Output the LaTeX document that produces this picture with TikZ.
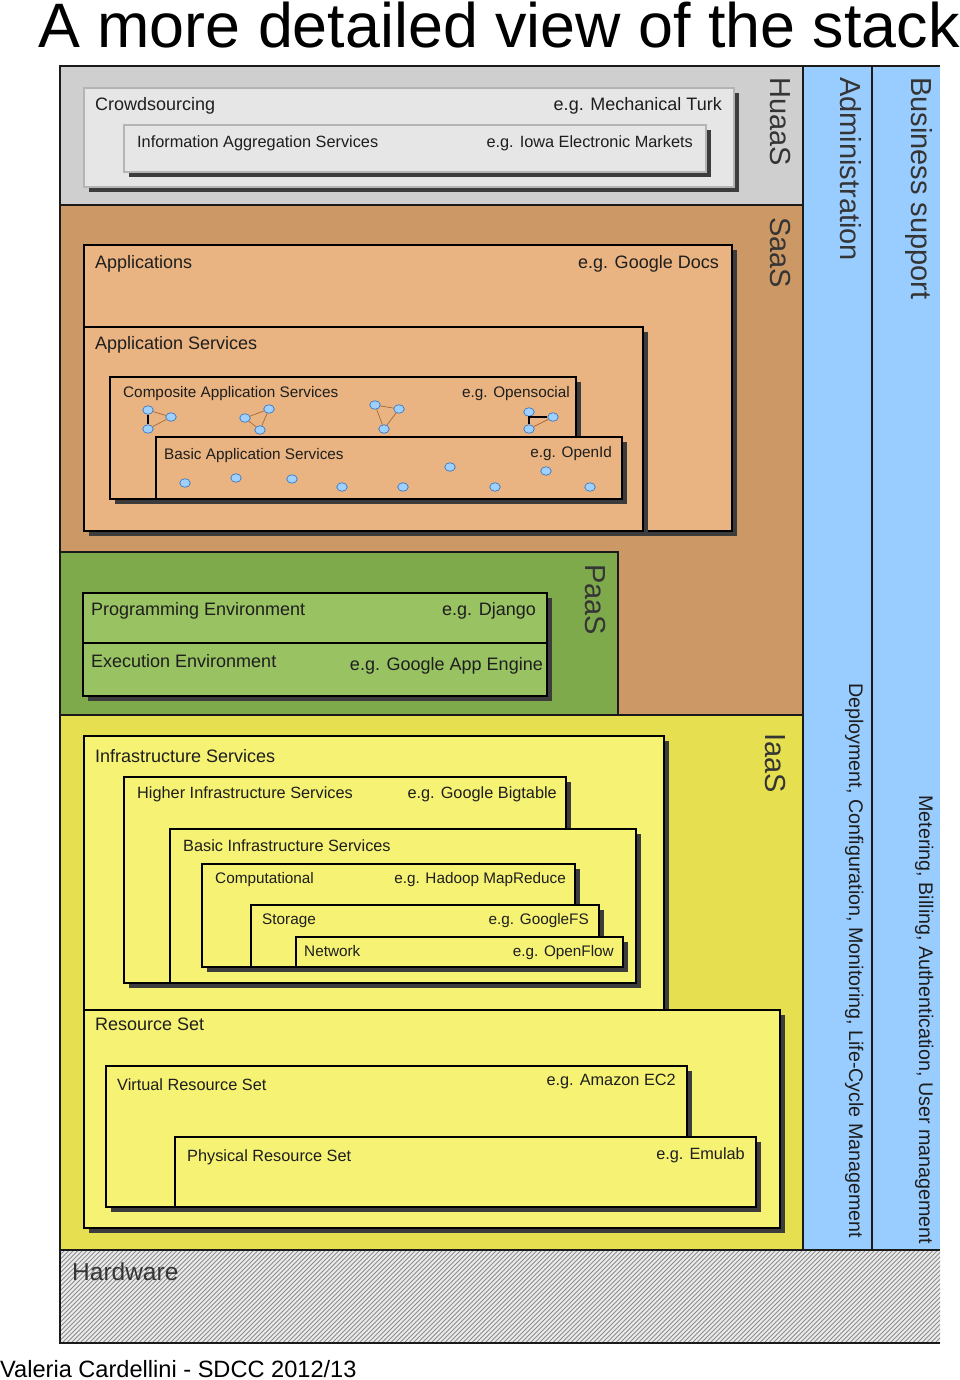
\documentclass[tikz,border=0pt]{standalone}
\usepackage{fontspec}
\setmainfont{Liberation Sans}
\usetikzlibrary{shapes.geometric}
\definecolor{huaasband}{HTML}{CFCFCF}
\definecolor{huaasbox}{HTML}{E6E6E6}
\definecolor{huaasline}{HTML}{B4B4B4}
\definecolor{saasband}{HTML}{CC9966}
\definecolor{saasbox}{HTML}{E9B481}
\definecolor{paasband}{HTML}{7EAA4B}
\definecolor{paasbox}{HTML}{99C263}
\definecolor{iaasband}{HTML}{E6E050}
\definecolor{iaasbox}{HTML}{F6F273}
\definecolor{colblue}{HTML}{99CCFF}
\definecolor{hwbg}{HTML}{EBEBEB}
\definecolor{hwline}{HTML}{8C8C8C}
\definecolor{shadowc}{HTML}{3C3C3C}
\definecolor{txt}{HTML}{1E1E1E}
\definecolor{bandtxt}{HTML}{353535}
\definecolor{framec}{HTML}{1A1A1A}
\definecolor{svcfill}{HTML}{9FD0FF}
\definecolor{svcline}{HTML}{3A7BC8}
\definecolor{linkc}{HTML}{A8683A}
\newcommand\layerbox[6]{%
  \fill[shadowc] ({#1+5},{#2+5}) rectangle ({#3+5},{#4+5});
  \filldraw[fill=#5,draw=#6,line width=1.7pt] (#1,#2) rectangle (#3,#4);}
\tikzset{
  lbl/.style={inner sep=0pt,text=txt},
  fbig/.style={lbl,font=\fontsize{18}{21}\selectfont},
  fmed/.style={lbl,font=\fontsize{16.3}{19}\selectfont},
  fsml/.style={lbl,font=\fontsize{15.3}{18}\selectfont},
  bandlbl/.style={inner sep=0pt,text=bandtxt,font=\fontsize{29}{34}\selectfont,rotate=-90,anchor=base west},
  sidelbl/.style={inner sep=0pt,text=txt,font=\fontsize{19.7}{23}\selectfont,rotate=-90,anchor=base west},
  svc/.style={ellipse,draw=svcline,fill=svcfill,line width=0.7pt,minimum width=10.5pt,minimum height=8.5pt,inner sep=0pt},
  thinlink/.style={draw=linkc,line width=0.7pt},
  thicklink/.style={draw=black,line width=1.8pt},
  framel/.style={draw=framec,line width=1.8pt},
  hatch/.style={draw=hwline,line width=0.8pt}
}
\begin{document}
\begin{tikzpicture}[x=1pt,y=-1pt]
\useasboundingbox (0,0) rectangle (960,1380);
\fill[white] (0,0) rectangle (960,1380);

% title and footer
\node[anchor=base west,inner sep=0pt,font=\fontsize{62.8}{70}\selectfont] (title) at (38,48) {A more detailed view of the stack};
\node[anchor=base west,inner sep=0pt,font=\fontsize{23.6}{28}\selectfont] (footer) at (0,1377) {Valeria Cardellini - SDCC 2012/13};

% bands
\fill[huaasband] (60,66) rectangle (803,205);
\fill[saasband] (60,205) rectangle (803,715);
\fill[paasband] (60,552) rectangle (618,715);
\fill[iaasband] (60,715) rectangle (803,1250);
\fill[colblue] (803,66) rectangle (940,1250);
\begin{scope}
  \clip (60,1250) rectangle (940,1343);
  \fill[hwbg] (60,1250) rectangle (940,1343);
  \foreach \i in {-100,-95.5,...,940} \draw[hatch] (\i,1343) -- ++(93,-93);
\end{scope}

% HuaaS boxes
\layerbox{84}{88}{734}{187}{huaasbox}{huaasline}
\layerbox{124}{125}{706}{172}{huaasbox}{huaasline}
\node[fbig,anchor=base west] (crowd) at (95,110.5) {Crowdsourcing};
\node[fbig,anchor=base east] (crowdeg) at (722,110.5) {e.g. Mechanical Turk};
\node[fmed,anchor=base west] (infoagg) at (137,147.5) {Information Aggregation Services};
\node[fmed,anchor=base east] (infoaggeg) at (693,147.5) {e.g. Iowa Electronic Markets};

% SaaS boxes
\layerbox{84}{245}{732}{531}{saasbox}{black}
\layerbox{84}{327}{643}{531}{saasbox}{black}
\layerbox{110}{377}{576}{499}{saasbox}{black}
\layerbox{156}{437}{622}{499}{saasbox}{black}
\node[fbig,anchor=base west] (apps) at (95,268.5) {Applications};
\node[fbig,anchor=base east] (appseg) at (719,268.5) {e.g. Google Docs};
\node[fbig,anchor=base west] (appsvc) at (95,349.5) {Application Services};
\node[fsml,anchor=base west] (comp) at (123,397) {Composite Application Services};
\node[fsml,anchor=base east] (compeg) at (570,397) {e.g. Opensocial};
\node[fsml,anchor=base west] (basicapp) at (164,459) {Basic Application Services};
\node[fsml,anchor=base east] (basicappeg) at (612,457) {e.g. OpenId};

% composite service graphs
\node[svc] (a1) at (148,410) {};
\node[svc] (a2) at (148,429) {};
\node[svc] (a3) at (171,417) {};
\draw[thicklink] (a1) -- (a2);
\draw[thinlink] (a1) -- (a3);
\draw[thinlink] (a2) -- (a3);
\node[svc] (b1) at (245,418) {};
\node[svc] (b2) at (269,409) {};
\node[svc] (b3) at (260,430) {};
\draw[thinlink] (b1) -- (b2);
\draw[thinlink] (b2) -- (b3);
\draw[thinlink] (b1) -- (b3);
\node[svc] (c1) at (375,405) {};
\node[svc] (c2) at (399,409) {};
\node[svc] (c3) at (384,429) {};
\draw[thinlink] (c1) -- (c2);
\draw[thinlink] (c2) -- (c3);
\draw[thinlink] (c1) -- (c3);
\node[svc] (d1) at (529,412) {};
\node[svc] (d2) at (553,417) {};
\node[svc] (d3) at (529,429) {};
\draw[thicklink] (d2) -| (d3);
\draw[thinlink] (d3) -- (d2);
% basic services
\node[svc] (s1) at (185,483) {};
\node[svc] (s2) at (236,478) {};
\node[svc] (s3) at (292,479) {};
\node[svc] (s4) at (342,487) {};
\node[svc] (s5) at (403,487) {};
\node[svc] (s6) at (450,467) {};
\node[svc] (s7) at (495,487) {};
\node[svc] (s8) at (546,471) {};
\node[svc] (s9) at (590,487) {};

% PaaS box
\layerbox{83}{593}{547}{696}{paasbox}{black}
\draw[black,line width=1.7pt] (83,643) -- (547,643);
\node[fbig,anchor=base west] (prog) at (91,615) {Programming Environment};
\node[fbig,anchor=base east] (progeg) at (536,615) {e.g. Django};
\node[fbig,anchor=base west] (exec) at (91,667) {Execution Environment};
\node[fbig,anchor=base east] (execeg) at (543,670) {e.g. Google App Engine};

% IaaS boxes
\layerbox{84}{736}{664}{1010}{iaasbox}{black}
\layerbox{124}{777}{566}{983}{iaasbox}{black}
\layerbox{170}{829}{636}{983}{iaasbox}{black}
\layerbox{202}{864}{575}{967}{iaasbox}{black}
\layerbox{251}{905}{599}{967}{iaasbox}{black}
\layerbox{296}{937}{623}{967}{iaasbox}{black}
\layerbox{84}{1010}{780}{1228}{iaasbox}{black}
\layerbox{106}{1066}{687}{1207}{iaasbox}{black}
\layerbox{175}{1137}{756}{1207}{iaasbox}{black}
\node[fbig,anchor=base west] (infra) at (95,762) {Infrastructure Services};
\node[fmed,anchor=base west] (higher) at (137,798.5) {Higher Infrastructure Services};
\node[fmed,anchor=base east] (highereg) at (557,798.5) {e.g. Google Bigtable};
\node[fmed,anchor=base west] (basicinfra) at (183,851) {Basic Infrastructure Services};
\node[fsml,anchor=base west] (compu) at (215,883.5) {Computational};
\node[fsml,anchor=base east] (compueg) at (566,883.5) {e.g. Hadoop MapReduce};
\node[fsml,anchor=base west] (stor) at (262,924.5) {Storage};
\node[fsml,anchor=base east] (storeg) at (589,924.5) {e.g. GoogleFS};
\node[fsml,anchor=base west] (net) at (304,956.5) {Network};
\node[fsml,anchor=base east] (neteg) at (614,956.5) {e.g. OpenFlow};
\node[fbig,anchor=base west] (res) at (95,1030) {Resource Set};
\node[fmed,anchor=base west] (virt) at (117,1090) {Virtual Resource Set};
\node[fmed,anchor=base east] (virteg) at (676,1085.5) {e.g. Amazon EC2};
\node[fmed,anchor=base west] (phys) at (187,1161.5) {Physical Resource Set};
\node[fmed,anchor=base east] (physeg) at (745,1159) {e.g. Emulab};

% band labels
\node[bandlbl] (lhuaas) at (770,77) {HuaaS};
\node[bandlbl] (lsaas) at (770,217) {SaaS};
\node[bandlbl] (lpaas) at (585,564) {PaaS};
\node[bandlbl] (liaas) at (765,733) {IaaS};
\node[bandlbl] (ladmin) at (840,77) {Administration};
\node[bandlbl] (lbiz) at (911,77) {Business support};
\node[sidelbl] (admintxt) at (849,683) {Deployment, Configuration, Monitoring, Life-Cycle Management};
\node[sidelbl] (biztxt) at (919,795) {Metering, Billing, Authentication, User management};
\node[inner sep=0pt,text=bandtxt,font=\fontsize{24.5}{28}\selectfont,anchor=base west] (hw) at (72,1280) {Hardware};

% frame lines
\draw[framel] (60,205) -- (803,205);
\draw[framel] (60,715) -- (803,715);
\draw[framel] (60,552) -- (618,552) -- (618,715);
\draw[framel] (60,1250) -- (940,1250);
\draw[framel] (803,66) -- (803,1250);
\draw[framel] (872,66) -- (872,1250);
\draw[framel] (940,66) -- (60,66) -- (60,1343) -- (940,1343);
\end{tikzpicture}
\end{document}
